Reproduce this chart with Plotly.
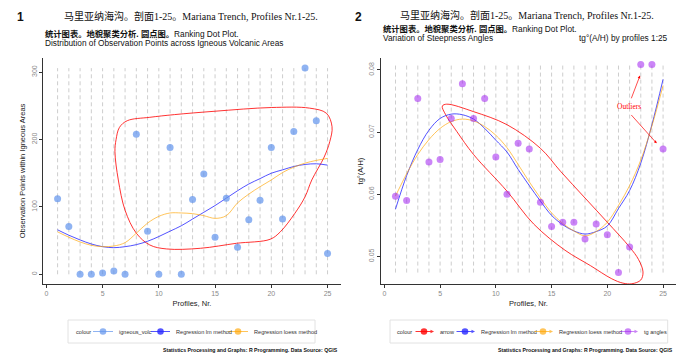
import plotly.graph_objects as go

# ---------------- data ----------------
profiles = list(range(1, 26))
x_ticks = [0, 5, 10, 15, 20, 25]

# panel 1: observation points within igneous areas
igneous_volc = [112, 71, 0, 0, 2, 5, 0, 208, 64, 0, 188, 0, 111, 149, 55,
                113, 40, 81, 110, 188, 82, 212, 306, 228, 31]
lm_1 = [66, 58, 51, 45, 41, 39.5, 41, 44, 49, 56, 64, 72, 82, 92, 102,
        113, 124, 134, 142, 150, 155, 160, 163, 164, 162]
loess_1 = [63, 55, 48, 43, 41, 42, 47, 61, 76, 86, 91, 91, 90, 87, 83,
           87, 106, 119, 130, 140, 151, 159, 165, 169, 172]
y_ticks_1 = [0, 100, 200, 300]
hull_1_x = [6.2, 6.5, 7.2, 9.2, 11.4, 15.0, 20.0, 23.4, 24.9, 25.4, 25.2, 24.7, 23.6,
            23.0, 22.1, 20.8, 19.9, 16.9, 13.7, 10.7, 9.2, 8.0, 7.0, 6.4, 6.1, 6.2]
hull_1_y = [200, 218, 228, 233, 237, 242, 247.5, 246.6, 239, 219, 197, 174, 140,
            115, 90.6, 63, 52, 46, 38.6, 37.6, 43.5, 61, 95, 140, 182, 200]
legend_1 = ["igneous_volc", "Regression lm method", "Regression loess method"]

# panel 2: steepness angles
tg_angles = [0.0597, 0.0590, 0.0754, 0.0652, 0.0656, 0.0722, 0.0778, 0.0722, 0.0754,
             0.0660, 0.0600, 0.0682, 0.0673, 0.0587, 0.0548, 0.0555, 0.0555, 0.0528,
             0.0552, 0.0535, 0.0474, 0.0515, 0.0809, 0.0809, 0.0673]
lm_2 = [0.0576, 0.0630, 0.0672, 0.0703, 0.0722, 0.0729, 0.0728, 0.0721, 0.0706,
        0.0687, 0.0668, 0.0640, 0.0614, 0.0589, 0.0566, 0.0551, 0.0541, 0.0536,
        0.0540, 0.0549, 0.0577, 0.0606, 0.0650, 0.0712, 0.0785]
loess_2 = [0.0597, 0.0633, 0.0664, 0.0688, 0.0706, 0.0717, 0.0721, 0.0718, 0.0709,
           0.0695, 0.0675, 0.0648, 0.0620, 0.0594, 0.0570, 0.0553, 0.0541, 0.0533,
           0.0540, 0.0555, 0.0582, 0.0614, 0.0655, 0.0710, 0.0775]
y_ticks_2 = [0.05, 0.06, 0.07, 0.08]
hull_2_x = [8.0, 11.0, 14.0, 15.8, 18.0, 20.0, 22.0, 22.8, 23.2, 23.0, 22.2, 21.4,
            20.4, 18.5, 16.2, 13.4, 11.0, 8.0, 6.5, 5.5, 5.2, 5.6, 8.0]
hull_2_y = [0.0733, 0.0712, 0.0674, 0.0637, 0.0594, 0.0555, 0.0515, 0.0495, 0.0475,
            0.0462, 0.0456, 0.0457, 0.0464, 0.0485, 0.0510, 0.0552, 0.0605, 0.0664,
            0.0701, 0.0728, 0.0742, 0.0745, 0.0733]
outlier_label = "Outliers"
outlier_label_pos = (21.9, 0.0741)
outlier_arrows = [((22.1, 0.0752), (22.93, 0.0791)), ((22.03, 0.0730), (24.43, 0.0682))]
legend_2 = ["arrow", "Regression lm method", "Regression loess method", "tg angles"]

# ---------------- style ----------------
W, H = 697, 356
def fx(p): return p / W
def fy(p): return 1 - p / H

C_PTS1 = "rgba(100,149,237,0.72)"
C_LM = "rgba(40,40,255,0.8)"
C_LOESS = "rgba(255,165,0,0.65)"
C_RED = "rgba(255,0,0,0.8)"
C_PTS2 = "rgba(160,32,240,0.55)"
SANS = "Liberation Sans, Arial, sans-serif"
SERIF = "Liberation Serif, Noto Sans CJK SC, serif"
CJK = "Liberation Sans, Noto Sans CJK SC, sans-serif"

fig = go.Figure()


def segments(xs, ys):
    lo, hi = min(ys), max(ys)
    X, Y = [], []
    for x in xs:
        X += [x, x, None]
        Y += [lo, hi, None]
    return X, Y


for (xa, ya, vals, lm, lo, hx, hy, pc) in [
    ("x", "y", igneous_volc, lm_1, loess_1, hull_1_x, hull_1_y, C_PTS1),
    ("x2", "y2", tg_angles, lm_2, loess_2, hull_2_x, hull_2_y, C_PTS2),
]:
    sx, sy = segments(profiles, vals)
    fig.add_trace(go.Scatter(x=sx, y=sy, mode="lines", xaxis=xa, yaxis=ya,
                             line=dict(color="#b8b8b8", width=0.7, dash="4px,3px"),
                             showlegend=False, hoverinfo="skip"))
    fig.add_trace(go.Scatter(x=hx, y=hy, mode="lines", xaxis=xa, yaxis=ya,
                             line=dict(color=C_RED, width=1, shape="spline", smoothing=1.0),
                             showlegend=False))
    fig.add_trace(go.Scatter(x=profiles, y=lm, mode="lines", xaxis=xa, yaxis=ya,
                             line=dict(color=C_LM, width=1, shape="spline"),
                             showlegend=False))
    fig.add_trace(go.Scatter(x=profiles, y=lo, mode="lines", xaxis=xa, yaxis=ya,
                             line=dict(color=C_LOESS, width=1, shape="spline"),
                             showlegend=False))
    fig.add_trace(go.Scatter(x=profiles, y=vals, mode="markers", xaxis=xa, yaxis=ya,
                             marker=dict(color=pc, size=7, line=dict(width=0)),
                             showlegend=False))

axis_common = dict(showgrid=False, zeroline=False, showline=True, linecolor="#333",
                   linewidth=1, ticks="outside", ticklen=3, tickcolor="#333",
                   tickfont=dict(family=SANS, size=7, color="#8a8a8a"))

fig.update_layout(
    width=W, height=H, margin=dict(l=0, r=0, t=0, b=0), showlegend=False,
    paper_bgcolor="white", plot_bgcolor="white",
    xaxis=dict(domain=[fx(43.3), fx(340.7)], range=[-0.27, 26.17], tickvals=x_ticks,
               title=dict(text="Profiles, Nr.", font=dict(family=SANS, size=7.5, color="#222"), standoff=4),
               anchor="y", automargin=False, **axis_common),
    yaxis=dict(domain=[fy(284), fy(58)], range=[-14.4, 321], tickvals=y_ticks_1, tickangle=-90,
               title=dict(text="Observation Points within Igneous Areas",
                          font=dict(family=SANS, size=7.5, color="#222"), standoff=3),
               anchor="x", automargin=False, **axis_common),
    xaxis2=dict(domain=[fx(381), fx(676)], range=[-0.30, 26.16], tickvals=x_ticks,
                title=dict(text="Profiles, Nr.", font=dict(family=SANS, size=7.5, color="#222"), standoff=4),
                anchor="y2", automargin=False, **axis_common),
    yaxis2=dict(domain=[fy(284), fy(58)], range=[0.04556, 0.08193], tickvals=y_ticks_2,
                tickformat=".2f", tickangle=-90,
                title=dict(text="tg°(A/H)", font=dict(family=SANS, size=7.5, color="#222"), standoff=3),
                anchor="x2", automargin=False, **axis_common),
)

ann = []
shapes = []


def text(x, y, t, size, family=SANS, color="#111", xanchor="left"):
    ann.append(dict(x=fx(x), y=fy(y), xref="paper", yref="paper", text=t, showarrow=False,
                    xanchor=xanchor, yanchor="middle",
                    font=dict(family=family, size=size, color=color)))


title_txt = "马里亚纳海沟。剖面1-25。Mariana Trench, Profiles Nr.1-25."
sub_cn = "<b>统计图表。地貌聚类分析. 圆点图。</b>Ranking Dot Plot."
caption = "<b>Statistics Processing and Graphs: R Programming. Data Source: QGIS</b>"

text(20, 17, "<b>1</b>", 12, xanchor="center")
text(191.5, 16, title_txt, 10, family=SERIF, xanchor="center")
text(43, 34.3, sub_cn, 8.3, family=CJK)
text(43, 42.6, "Distribution of Observation Points across Igneous Volcanic Areas", 8.3)
text(340, 349.5, caption, 5.2, xanchor="right")

text(358, 17, "<b>2</b>", 12, xanchor="center")
text(527, 15.5, title_txt, 10, family=SERIF, xanchor="center")
text(381, 29.5, sub_cn, 8.3, family=CJK)
text(381, 37.8, "Variation of Steepness Angles", 8.3)
text(670, 37.8, "tg°(A/H) by profiles 1:25", 8.3, xanchor="right")
text(675, 349.5, caption, 5.2, xanchor="right")

ann.append(dict(x=outlier_label_pos[0], y=outlier_label_pos[1], xref="x2", yref="y2",
                text=outlier_label, showarrow=False,
                font=dict(family="Liberation Serif, serif", size=7.5, color="red")))
for (tail, head) in outlier_arrows:
    ann.append(dict(x=head[0], y=head[1], ax=tail[0], ay=tail[1], xref="x2", yref="y2",
                    axref="x2", ayref="y2", text="", showarrow=True, arrowhead=2,
                    arrowsize=0.8, arrowwidth=0.7, arrowcolor="red", standoff=0))

# ---------------- legends (drawn as keys) ----------------
LY = 331.5


def legend_box(x0, x1):
    shapes.append(dict(type="rect", xref="paper", yref="paper", x0=fx(x0), x1=fx(x1),
                       y0=fy(343), y1=fy(320), line=dict(color="#e2e2e2", width=1),
                       fillcolor="white", layer="above"))


def key(xs, xe, col, label, arrow):
    if arrow:
        ann.append(dict(x=fx(xe), y=fy(LY), xref="paper", yref="paper", ax=-(xe - xs), ay=0,
                        text="", showarrow=True, arrowhead=2, arrowsize=0.7, arrowwidth=1,
                        arrowcolor=col, standoff=0))
    else:
        shapes.append(dict(type="line", xref="paper", yref="paper", x0=fx(xs), x1=fx(xe),
                           y0=fy(LY), y1=fy(LY), line=dict(color=col, width=1), layer="above"))
    xm = (xs + xe) / 2
    shapes.append(dict(type="circle", xref="paper", yref="paper", xsizemode="pixel",
                       ysizemode="pixel", xanchor=fx(xm), yanchor=fy(LY), x0=-3.3, x1=3.3,
                       y0=-3.3, y1=3.3, fillcolor=col, line=dict(width=0), layer="above"))
    text(xe + 4, LY, label, 5.6, color="#333")


legend_box(68, 315)
text(73.5, LY, "colour", 5.6, color="#333")
for (xs, xe), col, lab in zip([(93, 113), (151, 170), (228, 248)],
                              [C_PTS1, C_LM, C_LOESS], legend_1):
    key(xs, xe, col, lab, False)

legend_box(390, 667.7)
text(395, LY, "colour", 5.6, color="#333")
for (xs, xe), col, lab in zip([(414, 434), (455, 475), (533, 553), (618, 638)],
                              [C_RED, C_LM, C_LOESS, C_PTS2], legend_2):
    key(xs, xe, col, lab, True)

fig.update_layout(annotations=ann, shapes=shapes)
fig.write_html("out.html", config={"displayModeBar": False},
               post_script="document.body.style.margin='0';document.body.style.padding='0';")
